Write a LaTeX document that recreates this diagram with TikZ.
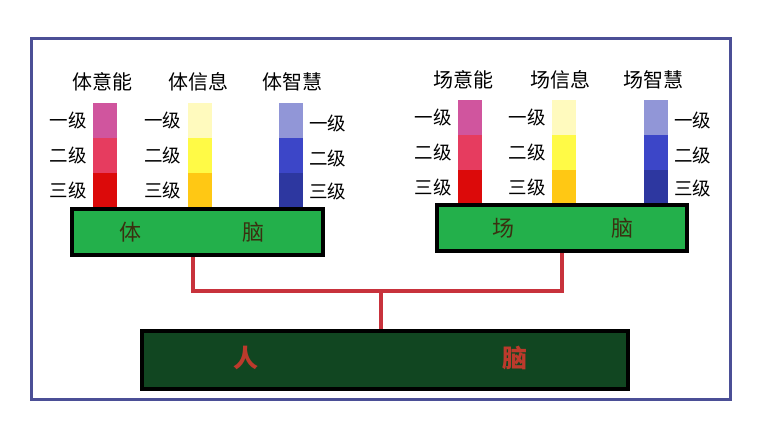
\documentclass[tikz,border=0pt]{standalone}
\usepackage{fontspec}
\newfontfamily\cjk{Noto Sans CJK SC}
\usetikzlibrary{calc}
\definecolor{frameblue}{HTML}{4B4F96}
\definecolor{braingreen}{HTML}{23B04B}
\definecolor{darkgreen}{HTML}{114621}
\definecolor{linkred}{HTML}{C8323C}
\definecolor{boxtext}{HTML}{3A3010}
\definecolor{mantext}{HTML}{BC3A2C}
\definecolor{pinkA}{HTML}{D0559E}
\definecolor{pinkB}{HTML}{E63C5F}
\definecolor{pinkC}{HTML}{DC0A0A}
\definecolor{yelA}{HTML}{FFFABE}
\definecolor{yelB}{HTML}{FFFA46}
\definecolor{yelC}{HTML}{FFC814}
\definecolor{bluA}{HTML}{9196D7}
\definecolor{bluB}{HTML}{3C46C8}
\definecolor{bluC}{HTML}{2D37A0}
\tikzstyle{seg}=[rectangle,minimum width=24pt,minimum height=34.5pt,inner sep=0pt,draw=none]
\tikzstyle{title}=[font=\cjk\fontsize{20}{22}\selectfont,inner sep=0pt]
\tikzstyle{level}=[font=\cjk\fontsize{18.5}{20}\selectfont,inner sep=0pt]
\tikzstyle{brain}=[rectangle,draw=black,line width=4pt,fill=braingreen,inner sep=0pt]
\tikzstyle{braintext}=[font=\cjk\fontsize{22}{24}\selectfont,text=boxtext]
\tikzstyle{mantext}=[font=\cjk\bfseries\fontsize{25}{27}\selectfont,text=mantext]
\tikzstyle{link}=[draw=linkred,line width=4pt]

\begin{document}
\begin{tikzpicture}[x=1pt,y=-1pt]
    \useasboundingbox (0,0) rectangle (761,447);
    \draw[frameblue, line width=3pt] (31,38) rectangle (730,399);

    % bars, one segment per level
    \foreach \xx/\yy/\name/\ca/\cb/\cc in {105/103/tiyi/pinkA/pinkB/pinkC, 199.5/103/tixin/yelA/yelB/yelC, 291/103/tizhi/bluA/bluB/bluC,
            470/100/changyi/pinkA/pinkB/pinkC, 564/100/changxin/yelA/yelB/yelC, 656/100/changzhi/bluA/bluB/bluC}
    {
        \node[seg,fill=\ca,anchor=north] (\name1) at (\xx,\yy) {};
        \node[seg,fill=\cb,anchor=north] (\name2) at (\name1.south) {};
        \node[seg,fill=\cc,anchor=north] (\name3) at (\name2.south) {};
    }

    % level labels
    \foreach \name in {tiyi, tixin, changyi, changxin}
    {
        \node[level,left=6pt] (\name L1) at (\name1.west) {一级};
        \node[level,left=6pt] (\name L2) at (\name2.west) {二级};
        \node[level,left=6pt] (\name L3) at (\name3.west) {三级};
    }
    \foreach \name in {tizhi, changzhi}
    {
        \node[level,right=6pt] (\name L1) at ($(\name1.east)+(0,3)$) {一级};
        \node[level,right=6pt] (\name L2) at ($(\name2.east)+(0,3)$) {二级};
        \node[level,right=6pt] (\name L3) at ($(\name3.east)+(0,1)$) {三级};
    }

    % titles
    \foreach \pos/\name/\label in {(102,82)/tiyiT/体意能, (198,82)/tixinT/体信息, (292,82)/tizhiT/体智慧,
            (463,80)/changyiT/场意能, (560,80)/changxinT/场信息, (653,80)/changzhiT/场智慧}
        \node[title] (\name) at \pos {\label};

    % brains
    \node[brain,minimum width=251pt,minimum height=46pt] (tinao) at (197.5,232) {};
    \node[brain,minimum width=250pt,minimum height=46pt] (changnao) at (562,228) {};
    \node[brain,fill=darkgreen,minimum width=486pt,minimum height=58pt] (rennao) at (385,360) {};

    \node[braintext] (tinaoA) at (130,232) {体};
    \node[braintext] (tinaoB) at (253,232) {脑};
    \node[braintext] (changnaoA) at (503,228) {场};
    \node[braintext] (changnaoB) at (622,228) {脑};
    \node[mantext] (rennaoA) at (246,358) {人};
    \node[mantext] (rennaoB) at (515,358) {脑};

    % links
    \coordinate (hub) at (381,291);
    \draw[link] ($(tinao.south)+(-5,0)$) |- (hub) -| (changnao.south);
    \draw[link] (hub) -- (hub |- rennao.north);
\end{tikzpicture}
\end{document}
